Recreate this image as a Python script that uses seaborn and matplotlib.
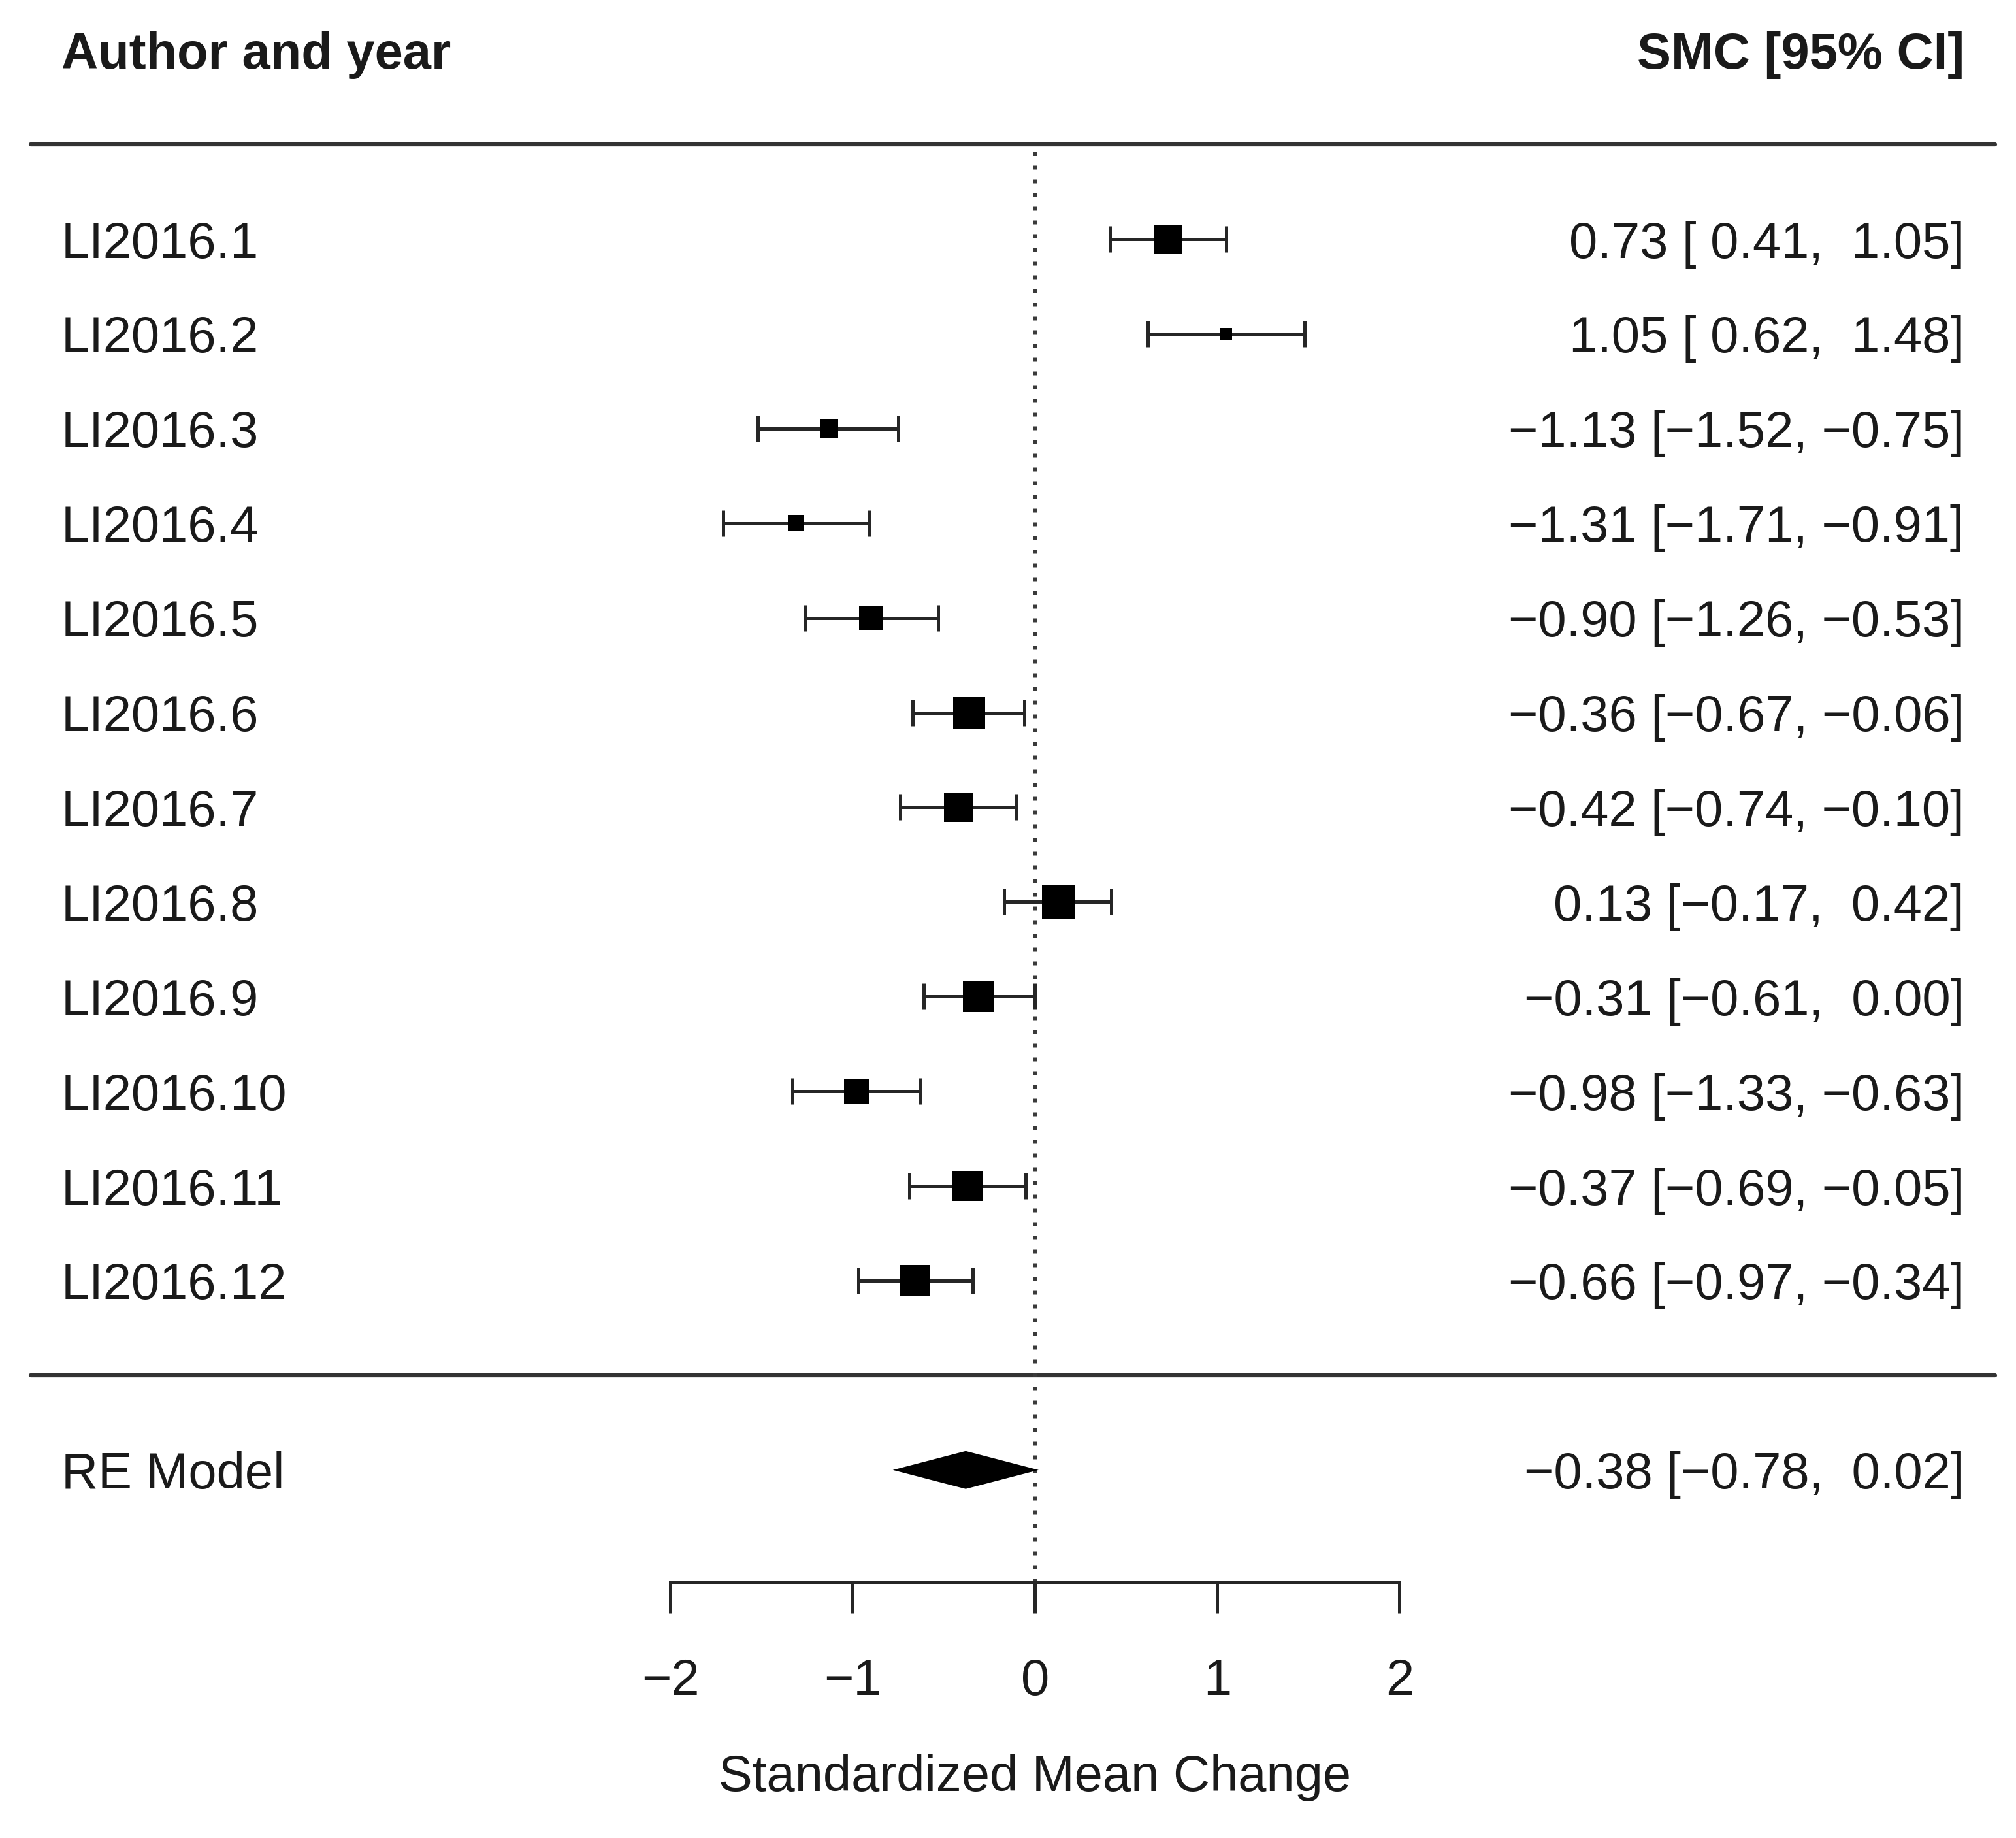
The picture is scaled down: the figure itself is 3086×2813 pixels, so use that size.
import numpy as np
import pandas as pd
import matplotlib
matplotlib.use("Agg")
import matplotlib.pyplot as plt
import matplotlib.transforms as mtransforms
import seaborn as sns

# ---------------- data ----------------
studies = ["LI2016.1", "LI2016.2", "LI2016.3", "LI2016.4", "LI2016.5", "LI2016.6",
           "LI2016.7", "LI2016.8", "LI2016.9", "LI2016.10", "LI2016.11", "LI2016.12"]
smc = [0.73, 1.05, -1.13, -1.31, -0.90, -0.36, -0.42, 0.13, -0.31, -0.98, -0.37, -0.66]
ci_low = [0.41, 0.62, -1.52, -1.71, -1.26, -0.67, -0.74, -0.17, -0.61, -1.33, -0.69, -0.97]
ci_high = [1.05, 1.48, -0.75, -0.91, -0.53, -0.06, -0.10, 0.42, 0.00, -0.63, -0.05, -0.34]
weights = [8.7, 3.6, 5.5, 4.9, 7.1, 9.6, 8.8, 10.0, 9.4, 7.5, 9.0, 9.2]

re_label = "RE Model"
re_est = -0.38
re_low = -0.78
re_high = 0.02

x_ticks = [-2, -1, 0, 1, 2]
header_left = "Author and year"
header_right = "SMC [95% CI]"
x_label = "Standardized Mean Change"

# ---------------- style ----------------
sns.set_theme(style="white")
plt.rcParams["font.family"] = ["Liberation Sans", "DejaVu Sans"]
FS = 56
INK = "#1a1a1a"


def fmt(v):
    return f"{v:5.2f}".replace("-", "\u2212")


def ci_text(e, lo, hi):
    return f"{fmt(e).strip()} [{fmt(lo)}, {fmt(hi)}]"


k = len(studies)
rows = np.arange(k, 0, -1)
df = pd.DataFrame({"study": studies, "smc": smc, "lo": ci_low, "hi": ci_high,
                   "w": weights, "row": rows})
side_px = df["w"] / df["w"].max() * 51.0
df["msize"] = (side_px * 0.72) ** 2

fig = plt.figure(figsize=(30.86, 28.13), dpi=100)
ax = fig.add_axes([0, 0, 1, 1])
ax.set_xlim(-5.679, 5.383)
ax.set_ylim(-4.887, 14.526)

# error bars
ax.errorbar(df["smc"], df["row"],
            xerr=[df["smc"] - df["lo"], df["hi"] - df["smc"]],
            fmt="none", ecolor="#262626", elinewidth=3.6, capsize=14.4, capthick=3.6,
            zorder=2)

# squares
sns.scatterplot(data=df, x="smc", y="row", marker="s", s=df["msize"].values,
                color="black", linewidth=0, edgecolor="none", legend=False,
                ax=ax, zorder=3)

# summary diamond
h = 0.2
ax.fill([re_low, re_est, re_high, re_est], [-1, -1 + h, -1, -1 - h],
        color="black", zorder=3, linewidth=0)

# separator lines
for yy in (k + 1, 0):
    ax.axhline(yy, xmin=0.0152, xmax=0.9897, color="#333333", lw=4.5, zorder=1)

# reference line
axis_row = -2.19
ax.vlines(0, axis_row, k + 1, colors="#3a3a3a", linestyles=(0, (1.2, 3.0)), lw=3.6,
          zorder=1)

# texts
trans = mtransforms.blended_transform_factory(ax.transAxes, ax.transData)
xl, xr = 0.0305, 0.9744
for _, r in df.iterrows():
    ax.text(xl, r["row"], r["study"], transform=trans, ha="left",
            va="center_baseline", fontsize=FS, color=INK)
    ax.text(xr, r["row"], ci_text(r["smc"], r["lo"], r["hi"]), transform=trans,
            ha="right", va="center_baseline", fontsize=FS, color=INK)
ax.text(xl, -1, re_label, transform=trans, ha="left", va="center_baseline",
        fontsize=FS, color=INK)
ax.text(xr, -1, ci_text(re_est, re_low, re_high), transform=trans, ha="right",
        va="center_baseline", fontsize=FS, color=INK)
ax.text(xl, k + 2, header_left, transform=trans, ha="left", va="center_baseline",
        fontsize=FS, fontweight="bold", color=INK)
ax.text(xr, k + 2, header_right, transform=trans, ha="right", va="center_baseline",
        fontsize=FS, fontweight="bold", color=INK)

# axis
for sp in ("top", "left", "right"):
    ax.spines[sp].set_visible(False)
ax.spines["bottom"].set_position(("data", axis_row))
ax.spines["bottom"].set_bounds(x_ticks[0], x_ticks[-1])
ax.spines["bottom"].set_linewidth(3.6)
ax.spines["bottom"].set_color("#262626")
ax.set_xticks(x_ticks)
ax.set_yticks([])
ax.tick_params(axis="x", direction="out", length=34, width=3.6, pad=49,
               labelsize=FS, color="#262626", labelcolor=INK, bottom=True)
ax.set_ylabel("")
ax.set_xlabel(x_label, fontsize=FS, color=INK)
ax.xaxis.set_label_coords(0.5134, 0.046)
ax.grid(False)
ax.set_facecolor("white")
fig.patch.set_facecolor("white")

fig.savefig("out.png", dpi=100, facecolor="white")
